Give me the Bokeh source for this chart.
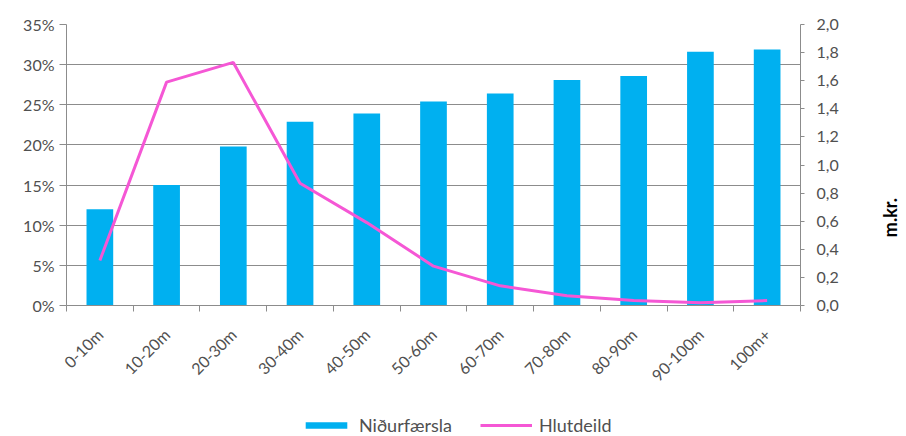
import math
from bokeh.plotting import figure
from bokeh.layouts import column, row
from bokeh.models import (Range1d, LinearAxis, FixedTicker, CustomJSTickFormatter,
                          Legend, LegendItem, Label, ColumnDataSource)
from bokeh.embed import file_html
from bokeh.resources import INLINE

categories = ["0-10m", "10-20m", "20-30m", "30-40m", "40-50m", "50-60m",
              "60-70m", "70-80m", "80-90m", "90-100m", "100m+"]
nidurfaersla = [12.0, 15.0, 19.8, 22.9, 23.9, 25.4, 26.4, 28.1, 28.6, 31.6, 31.9]
hlutdeild = [0.32, 1.59, 1.73, 0.87, 0.59, 0.28, 0.14, 0.07, 0.035, 0.02, 0.035]
left_ticks = [0, 5, 10, 15, 20, 25, 30, 35]
right_ticks = [0.0, 0.2, 0.4, 0.6, 0.8, 1.0, 1.2, 1.4, 1.6, 1.8, 2.0]
series_names = ["Niðurfærsla", "Hlutdeild"]
right_title = "m.kr."

FONT = "Lato"
TXT = "#505050"
GRID = "#8C8C8C"
BLUE = "#00B0F0"
PINK = "#F557D5"
FS = "16px"

n = len(categories)
xs = [i + 0.5 for i in range(n)]
src = ColumnDataSource(dict(x=xs, cat=categories, nd=nidurfaersla, hl=hlutdeild))

# ---------------- main chart ----------------
p = figure(width=860, height=412, x_range=Range1d(0, n), y_range=Range1d(0, 35),
           output_backend="svg", toolbar_location=None,
           min_border_left=66, min_border_right=60, min_border_top=24,
           min_border_bottom=107, outline_line_color=None)
p.extra_y_ranges = {"r": Range1d(0, 2)}

p.vbar(x="x", top="nd", width=0.4, source=src, fill_color=BLUE, line_color=None)
p.line(x="x", y="hl", source=src, y_range_name="r", line_color=PINK, line_width=3)

xa = p.xaxis[0]
xa.ticker = FixedTicker(ticks=xs, minor_ticks=list(range(n + 1)))
xa.formatter = CustomJSTickFormatter(args=dict(cats=categories),
                                     code="return cats[Math.floor(tick)];")
xa.major_tick_out = 0
xa.major_tick_in = 0
xa.minor_tick_out = 6
xa.minor_tick_in = 0
xa.minor_tick_line_color = GRID
xa.axis_line_color = GRID
xa.major_label_orientation = math.pi / 4
xa.major_label_standoff = 20
xa.major_label_text_font = FONT
xa.major_label_text_font_size = FS
xa.major_label_text_color = TXT

ya = p.yaxis[0]
ya.ticker = FixedTicker(ticks=left_ticks)
ya.formatter = CustomJSTickFormatter(code="return tick + '%';")
ya.major_tick_out = 7
ya.major_tick_in = 0
ya.minor_tick_out = 0
ya.minor_tick_in = 0
ya.axis_line_color = GRID
ya.major_tick_line_color = GRID
ya.major_label_standoff = 5
ya.major_label_text_font = FONT
ya.major_label_text_font_size = FS
ya.major_label_text_color = TXT

ra = LinearAxis(y_range_name="r", ticker=FixedTicker(ticks=right_ticks))
ra.formatter = CustomJSTickFormatter(code="return tick.toFixed(1).replace('.', ',');")
ra.major_tick_out = 4
ra.major_tick_in = 0
ra.minor_tick_out = 0
ra.minor_tick_in = 0
ra.axis_line_color = GRID
ra.major_tick_line_color = GRID
ra.major_label_standoff = 12
ra.major_label_text_font = FONT
ra.major_label_text_font_size = FS
ra.major_label_text_color = TXT
p.add_layout(ra, "right")

p.xgrid.visible = False
p.ygrid.ticker = FixedTicker(ticks=left_ticks)
p.ygrid.grid_line_color = GRID
p.ygrid.grid_line_width = 1

# ---------------- right title strip ----------------
side = figure(width=46, height=412, x_range=Range1d(0, 46), y_range=Range1d(0, 412),
              x_axis_type=None, y_axis_type=None, output_backend="svg",
              toolbar_location=None, min_border=0, outline_line_color=None)
side.grid.visible = False
side.add_layout(Label(x=29, y=129, text=right_title, angle=math.pi / 2,
                      text_font=FONT, text_font_style="bold", text_font_size="18px",
                      text_color="#000000", text_align="center",
                      text_baseline="middle"))

# ---------------- legend strip (proxies share the data, drawn off-range) ----------------
leg = figure(width=906, height=24, x_range=Range1d(-3, -2), y_range=Range1d(0, 1),
             x_axis_type=None, y_axis_type=None, output_backend="svg",
             toolbar_location=None, min_border=0, outline_line_color=None)
leg.grid.visible = False
r_bar = leg.vbar(x="x", top="nd", width=0.4, source=src, fill_color=BLUE, line_color=None)
r_line = leg.line(x="x", y="hl", source=src, line_color=PINK, line_width=3)
legend = Legend(items=[LegendItem(label=series_names[0], renderers=[r_bar]),
                       LegendItem(label=series_names[1], renderers=[r_line])],
                orientation="horizontal", location=(300, 0),
                border_line_color=None, background_fill_alpha=0,
                glyph_width=52, glyph_height=8, label_height=16, label_standoff=7,
                spacing=28, padding=0, margin=0, label_text_font=FONT,
                label_text_font_size="18px", label_text_color=TXT)
leg.add_layout(legend)

layout = column(row(p, side), leg)
open("out.html", "w").write(file_html(layout, INLINE))
